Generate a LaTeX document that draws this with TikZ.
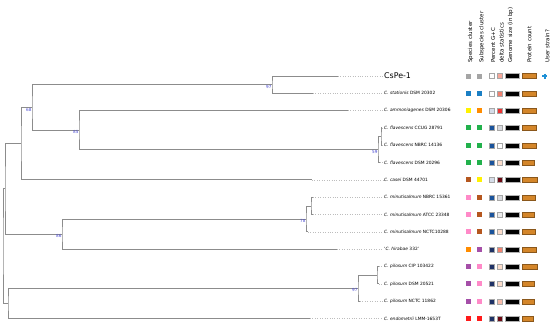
\documentclass[tikz,border=0pt]{standalone}
\usepackage{fontspec}
\setmainfont{DejaVu Sans}
\usepackage{tikz}
\usetikzlibrary{calc}

\definecolor{treegray}{HTML}{8C8C8C}
\definecolor{dotgray}{HTML}{BDBDBD}
\definecolor{bootblue}{HTML}{4B4BD2}
\definecolor{cGray}{HTML}{A5A5A5}
\definecolor{cBlue}{HTML}{1B7FC4}
\definecolor{cYellow}{HTML}{FFF200}
\definecolor{cOrange}{HTML}{FF8C00}
\definecolor{cGreen}{HTML}{22B14C}
\definecolor{cSienna}{HTML}{B5571F}
\definecolor{cPink}{HTML}{FF8AC8}
\definecolor{cPurple}{HTML}{A54FA8}
\definecolor{cRed}{HTML}{FF1A1A}
\definecolor{gPale}{HTML}{D5DCE8}
\definecolor{gBlue}{HTML}{1A539B}
\definecolor{gNavy}{HTML}{1F3266}
\definecolor{dSalmL}{HTML}{F7A89A}
\definecolor{dSalm}{HTML}{F08270}
\definecolor{dRed}{HTML}{EE3333}
\definecolor{dGrayL}{HTML}{D8DADF}
\definecolor{dPeach}{HTML}{FCDDCB}
\definecolor{dPeachM}{HTML}{F8BCAA}
\definecolor{dDark}{HTML}{6E0A14}
\definecolor{dLight}{HTML}{ECECEC}
\definecolor{protein}{HTML}{D4862A}
\definecolor{userblue}{HTML}{1E90D6}

\begin{document}
\begin{tikzpicture}[x=1bp, y=-1bp,
		branch/.style={draw=treegray, line width=1bp},
		dots/.style={draw=dotgray, line width=0.45bp, dotted},
		leaf/.style={anchor=west, inner sep=1bp, font=\fontsize{4.4}{5}\selectfont},
		head/.style={rotate=90, anchor=west, inner sep=0pt, font=\fontsize{5.5}{6}\selectfont},
		boot/.style={anchor=north east, inner sep=0.3bp, text=bootblue, font=\fontsize{4.2}{5}\selectfont}]
		% 0. 画布大小 550 x 326
		\useasboundingbox (0,0) rectangle (550,326);
		\def\ytop{76} \def\dy{17.33}
		
		% 1. 叶子：末端坐标、名称和虚线
		\foreach \k/\tx/\lab in {
			1/338/{\fontsize{7.9}{9}\selectfont CsPe-1},
			2/313/{\textit{C. stationis} DSM 20302},
			3/348/{\textit{C. ammoniagenes} DSM 20306},
			4/382/{\textit{C. flavescens} CCUG 28791},
			5/382/{\textit{C. flavescens} NBRC 14136},
			6/380/{\textit{C. flavescens} DSM 20296},
			7/312/{\textit{C. casei} DSM 44701},
			8/313/{\textit{C. minutisalmum} NBRC 15361},
			9/313/{\textit{C. minutisalmum} ATCC 23348},
			10/308/{\textit{C. minutisalmum} NCTC10288},
			11/337/{`\textit{C. hirabae} 332'},
			12/379/{\textit{C. pilosum} CIP 103422},
			13/379/{\textit{C. pilosum} DSM 20521},
			14/360/{\textit{C. pilosum} NCTC 11862},
			15/310/{\textit{C. endometrii} LMM-1653T}}
		{
			\coordinate (t\k) at (\tx, {\ytop+(\k-1)*\dy});
			\node[leaf] (l\k) at (383, {\ytop+(\k-1)*\dy}) {\lab};
			\draw[dots] (t\k) -- (l\k.west);
		}
		
		% 2. 内部节点
		\coordinate (n97a) at (272, 84.67);
		\coordinate (nFl)  at (381, 136.67);
		\coordinate (n59)  at (378, 149.67);
		\coordinate (n85)  at (79, 130.17);
		\coordinate (n68)  at (32, 107.42);
		\coordinate (nA)   at (21, 143.71);
		\coordinate (nMi)  at (311, 206);
		\coordinate (n78)  at (306, 219);
		\coordinate (n86)  at (62, 234.17);
		\coordinate (nB)   at (5, 188.94);
		\coordinate (nPi)  at (377, 275.33);
		\coordinate (n97b) at (358, 288.33);
		\coordinate (nC)   at (8, 303.5);
		\coordinate (root) at (3, 246.2);
		
		% 3. 树枝（直角连线）
		\draw[branch] (t1) -| (n97a) |- (t2);
		\draw[branch] (t4) -| (nFl) |- (t5);
		\draw[branch] (nFl) -| (n59) |- (t6);
		\draw[branch] (t3) -| (n85) |- (n59);
		\draw[branch] (n97a) -| (n68) |- (n85);
		\draw[branch] (n68) -| (nA) |- (t7);
		\draw[branch] (t8) -| (nMi) |- (t9);
		\draw[branch] (nMi) -| (n78) |- (t10);
		\draw[branch] (n78) -| (n86) |- (t11);
		\draw[branch] (nA) -| (nB) |- (n86);
		\draw[branch] (t12) -| (nPi) |- (t13);
		\draw[branch] (nPi) -| (n97b) |- (t14);
		\draw[branch] (n97b) -| (nC) |- (t15);
		\draw[branch] (nB) -| (root) |- (nC);
		
		% 4. 支持率
		\node[boot] (b97a) at (n97a) {97};
		\node[boot] (b68) at (n68) {68};
		\node[boot] (b85) at (n85) {85};
		\node[boot] (b59) at (n59) {59};
		\node[boot] (b78) at (n78) {78};
		\node[boot] (b86) at (n86) {86};
		\node[boot] (b97b) at (n97b) {97};
		
		% 5. 列标题
		\node[head] (hSp)  at (470.5,63) {Species cluster};
		\node[head] (hSub) at (481.8,63) {Subspecies cluster};
		\node[head] (hGC)  at (493.2,63) {Percent G+C};
		\node[head] (hDel) at (501.5,63) {delta statistics};
		\node[head] (hGen) at (510.5,63) {Genome size (in bp)};
		\node[head] (hPro) at (529.2,63) {Protein count};
		\node[head] (hUsr) at (547.2,63) {User strain?};
		
		% 6. 色块
		\foreach \k/\ca/\cb/\cc/\cd/\gw/\pw in {
			1/cGray/cGray/white/dSalmL/13.5/14,
			2/cBlue/cBlue/white/dSalm/13.5/14,
			3/cYellow/cOrange/gPale/dRed/13.5/14,
			4/cGreen/cGreen/gBlue/dGrayL/13.5/14,
			5/cGreen/cGreen/gBlue/white/13.5/14,
			6/cGreen/cGreen/gBlue/dPeach/13.5/12,
			7/cSienna/cYellow/gPale/dDark/15.3/14.7,
			8/cPink/cSienna/gBlue/dGrayL/13.5/13.3,
			9/cPink/cSienna/gBlue/dLight/13.5/11.5,
			10/cPink/cSienna/gBlue/dPeach/13.5/13.3,
			11/cOrange/cPurple/gNavy/dSalm/14/14,
			12/cPurple/cPink/gNavy/dPeach/13.5/14.7,
			13/cPurple/cPink/gNavy/dPeach/13.5/12,
			14/cPurple/cPink/gNavy/dPeachM/13.5/12,
			15/cRed/cRed/gNavy/dDark/13.5/10.7}
		{
			\pgfmathsetmacro\yy{\ytop+(\k-1)*\dy}
			\fill[\ca] (465.8,\yy-2.5) rectangle +(5,5);
			\fill[\cb] (477,\yy-2.5) rectangle +(5,5);
			\filldraw[fill=\cc, draw=gray!70, line width=0.4bp] (489.5,\yy-2.5) rectangle +(5,5);
			\filldraw[fill=\cd, draw=gray!70, line width=0.4bp] (497.3,\yy-2.5) rectangle +(5,5);
			\filldraw[fill=black, draw=gray!60, line width=0.3bp] (505.3,\yy-2.5) rectangle +(\gw,5);
			\filldraw[fill=protein, draw=protein!65!black, line width=0.4bp] (522.2,\yy-2.5) rectangle +(\pw,5);
		}
		
		% 7. 用户菌株标记
		\draw[userblue, line width=1.7bp] (542.2,\ytop) -- (547.2,\ytop) (544.7,\ytop-2.5) -- (544.7,\ytop+2.5);
		
	\end{tikzpicture}
\end{document}
